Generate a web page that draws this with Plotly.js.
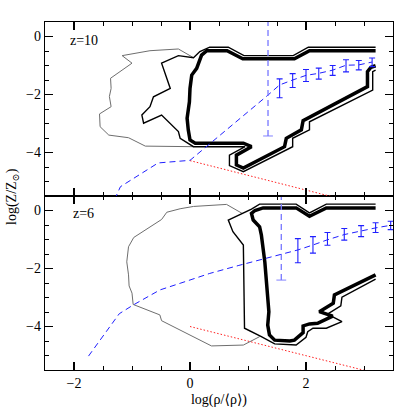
<!DOCTYPE html>
<html>
<head>
<meta charset="utf-8">
<script src="https://cdn.plot.ly/plotly-3.0.1.min.js"></script>
<style>html,body{margin:0;padding:0;background:#fff;}#chart{width:415px;height:415px;}</style>
</head>
<body>
<div id="chart"></div>
<script>
// ---------- z = 10 panel ----------
const grey10_x = [0.06, -0.2, -0.69, -1.17, -1.0, -1.37, -1.36, -1.39, -1.36, -1.56, -1.55, -1.4, -1.06, -0.77, 0.06];
const grey10_y = [-0.73, -0.43, -0.49, -0.66, -0.92, -1.44, -1.79, -2.07, -2.42, -2.67, -3.11, -3.4, -3.49, -3.78, -3.8];

const mid10_x = [3.2, 2.04, 1.78, 0.93, 0.66, 0.34, 0.17, 0.06, -0.2, -0.49, -0.34, -0.63, -0.69, -0.83, -0.80, -0.49, -0.2, -0.17, 0.06, 0.95, 0.68, 0.68, 0.92, 1.77, 1.77, 2.06, 2.06, 3.15, 3.15, 3.2];
const mid10_y = [-0.37, -0.37, -0.66, -0.66, -0.37, -0.37, -0.52, -0.73, -0.66, -0.92, -1.79, -2.08, -2.42, -2.71, -2.99, -2.71, -3.28, -3.51, -3.8, -3.8, -4.09, -4.45, -4.66, -3.8, -3.51, -3.22, -2.94, -1.85, -1.21, -1.16];

const thick10_x = [3.2, 2.06, 1.80, 0.91, 0.64, 0.29, 0.2, 0.14, 0.115, 0.03, 0.0, -0.01, -0.05, -0.03, 0.0, 0.09, 0.92, 1.06, 0.8, 0.8, 0.92, 1.63, 1.66, 1.92, 1.95, 3.06, 3.06, 3.12, 3.2];
const thick10_y = [-0.49, -0.49, -0.77, -0.77, -0.49, -0.49, -0.64, -0.92, -1.1, -1.33, -1.79, -2.25, -2.82, -3.22, -3.57, -3.68, -3.68, -3.8, -4.09, -4.43, -4.54, -3.8, -3.51, -3.22, -2.9, -1.73, -1.21, -1.06, -1.01];

const blue10_x = [-1.3, -1.2, -0.55, 0.0, 1.345, 1.545, 1.77, 2.0, 2.22, 2.46, 2.69, 2.91, 3.14];
const blue10_y = [-5.62, -5.18, -4.36, -4.27, -2.02, -1.67, -1.5, -1.34, -1.27, -1.16, -0.99, -0.98, -0.88];

const err10_x  = [1.545, 1.77, 2.0, 2.22, 2.46, 2.69, 2.91, 3.14];
const err10_y  = [-1.67, -1.5, -1.34, -1.27, -1.16, -0.99, -0.98, -0.88];
const err10_hi = [-1.46, -1.28, -1.14, -1.09, -1.0, -0.8, -0.83, -0.74];
const err10_lo = [-2.11, -1.76, -1.55, -1.47, -1.34, -1.22, -1.15, -1.04];

const big10_x = 1.345, big10_lo = -3.43, big10_hi = 1.0;

const red10_x = [0, 1.2, 2.6];
const red10_y = [-4.28, -4.89, -5.6];

// ---------- z = 6 panel ----------
const grey6_x = [0.9, 0.63, 0.06, -0.17, -0.4, -0.49, -0.97, -1.06, -1.09, -1.06, -1.05, -1.0, -0.98, -0.74, -0.52, -0.49, 0.37, 0.92, 1.2];
const grey6_y = [-0.1, 0.21, 0.14, 0.06, -0.06, -0.31, -0.93, -1.25, -1.77, -2.22, -2.6, -2.85, -3.24, -3.43, -3.6, -3.8, -4.67, -4.64, -4.35];

const mid6_x = [3.2, 2.35, 2.06, 1.83, 1.2, 1.06, 0.66, 0.74, 0.92, 0.93, 0.94, 1.23, 1.46, 1.83, 2.0, 2.03, 2.12, 2.35, 2.62, 2.37, 2.6, 2.62, 3.2];
const mid6_y = [0.22, 0.22, -0.08, 0.22, 0.22, 0.05, -0.33, -0.73, -1.19, -2.34, -4.06, -4.35, -4.6, -4.64, -4.37, -4.18, -4.06, -4.06, -3.83, -3.57, -3.29, -2.99, -2.37];

const thick6_x = [3.2, 2.35, 2.06, 1.83, 1.26, 1.12, 1.06, 1.09, 1.2, 1.23, 1.29, 1.34, 1.36, 1.34, 1.37, 1.46, 1.72, 1.8, 1.95, 1.95, 2.06, 2.2, 2.46, 2.23, 2.47, 2.49, 3.2];
const thick6_y = [0.09, 0.09, -0.2, 0.09, 0.09, 0.0, -0.1, -0.33, -0.56, -0.84, -1.77, -2.91, -3.49, -3.95, -4.29, -4.47, -4.5, -4.47, -4.21, -3.98, -3.91, -3.89, -3.64, -3.49, -3.2, -2.91, -2.22];

const blue6_x = [-1.75, -1.22, -0.98, -0.52, -0.17, 0.34, 0.83, 1.574, 1.86, 2.12, 2.37, 2.66, 2.95, 3.2, 3.46];
const blue6_y = [-5.02, -3.56, -3.26, -2.74, -2.51, -2.17, -1.9, -1.51, -1.36, -1.19, -1.01, -0.83, -0.7, -0.6, -0.51];

const err6_x  = [1.86, 2.12, 2.37, 2.66, 2.95, 3.2, 3.46];
const err6_y  = [-1.36, -1.19, -1.01, -0.83, -0.7, -0.6, -0.51];
const err6_hi = [-0.97, -0.9, -0.76, -0.62, -0.52, -0.42, -0.37];
const err6_lo = [-1.8, -1.47, -1.2, -1.02, -0.9, -0.76, -0.66];

const big6_x = 1.574, big6_lo = -2.4, big6_hi = 1.0;

const red6_x = [0, 1.72, 3.1];
const red6_y = [-4.0, -4.87, -5.56];

const panelLabels = ["z=10", "z=6"];
const xTitle = 'log(ρ/<span style="font-family:DejaVu Sans">⟨</span>ρ<span style="font-family:DejaVu Sans">⟩</span>)';
const yTitle = "log(Z/Z<sub>⊙</sub>)";

// ---------- build ----------
const FONT = "Liberation Serif, DejaVu Serif, serif";
const BLUE = "#2020ff";
const LBLUE = "#7777ff";

function panel(xa, ya, grey, mid, thick, blue, err, big, red) {
  const t = [];
  t.push({x: grey[0], y: grey[1], xaxis: xa, yaxis: ya, mode: "lines", line: {color: "#6e6e6e", width: 1}, hoverinfo: "skip"});
  t.push({x: mid[0], y: mid[1], xaxis: xa, yaxis: ya, mode: "lines", line: {color: "#000", width: 1.4}, hoverinfo: "skip"});
  t.push({x: thick[0], y: thick[1], xaxis: xa, yaxis: ya, mode: "lines", line: {color: "#000", width: 3.5}, hoverinfo: "skip"});
  t.push({x: red[0], y: red[1], xaxis: xa, yaxis: ya, mode: "lines", line: {color: "#ff2020", width: 1, dash: "1.5px,2px"}, hoverinfo: "skip"});
  t.push({x: blue[0], y: blue[1], xaxis: xa, yaxis: ya, mode: "lines", line: {color: BLUE, width: 1, dash: "6px,4px"}, hoverinfo: "skip"});
  t.push({x: err[0], y: err[1], xaxis: xa, yaxis: ya, mode: "markers", marker: {size: 1, color: BLUE, opacity: 0},
    error_y: {type: "data", symmetric: false,
      array: err[2].map((h, i) => h - err[1][i]),
      arrayminus: err[3].map((l, i) => err[1][i] - l),
      color: BLUE, thickness: 1.1, width: 3}, hoverinfo: "skip"});
  t.push({x: [big[0], big[0]], y: [big[1], big[2]], xaxis: xa, yaxis: ya, mode: "lines+markers",
    line: {color: LBLUE, width: 1.3, dash: "6px,4px"},
    marker: {symbol: "line-ew", size: [7, 0], line: {color: LBLUE, width: 1.3}}, hoverinfo: "skip"});
  return t;
}

const data = [].concat(
  panel("x2", "y", [grey10_x, grey10_y], [mid10_x, mid10_y], [thick10_x, thick10_y], [blue10_x, blue10_y],
        [err10_x, err10_y, err10_hi, err10_lo], [big10_x, big10_lo, big10_hi], [red10_x, red10_y]),
  panel("x", "y2", [grey6_x, grey6_y], [mid6_x, mid6_y], [thick6_x, thick6_y], [blue6_x, blue6_y],
        [err6_x, err6_y, err6_hi, err6_lo], [big6_x, big6_lo, big6_hi], [red6_x, red6_y])
);

const axCommon = {
  showgrid: false, zeroline: false, showline: true, linecolor: "#000", linewidth: 1.3,
  mirror: "ticks", ticks: "inside", ticklen: 8, tickwidth: 1.1, tickcolor: "#000",
  dtick: 2, tick0: 0, minor: {dtick: 0.5, tick0: 0, ticks: "inside", ticklen: 4, tickwidth: 1, tickcolor: "#000"},
  tickfont: {family: FONT, size: 14, color: "#000"}
};

const layout = {
  width: 415, height: 415,
  margin: {l: 45, r: 22, t: 22, b: 44.5},
  paper_bgcolor: "#fff", plot_bgcolor: "#fff",
  showlegend: false,
  xaxis: Object.assign({}, axCommon, {domain: [0, 1], range: [-2.5, 3.5], anchor: "y2",
    title: {text: xTitle, font: {family: FONT, size: 14, color: "#000"}, standoff: 4}}),
  xaxis2: Object.assign({}, axCommon, {domain: [0, 1], range: [-2.5, 3.5], anchor: "y", matches: "x", showticklabels: false}),
  yaxis: Object.assign({}, axCommon, {domain: [0.5, 1], range: [-5.5, 0.5], anchor: "x2"}),
  yaxis2: Object.assign({}, axCommon, {domain: [0, 0.5], range: [-5.5, 0.5], anchor: "x"}),
  annotations: [
    {text: panelLabels[0], xref: "x2", yref: "y", x: -2.1, y: -0.15, xanchor: "left", yanchor: "middle", showarrow: false,
     font: {family: FONT, size: 14, color: "#000"}},
    {text: panelLabels[1], xref: "x", yref: "y2", x: -2.05, y: -0.12, xanchor: "left", yanchor: "middle", showarrow: false,
     font: {family: FONT, size: 14, color: "#000"}},
    {text: yTitle, xref: "paper", yref: "paper", x: -0.095, y: 0.5, xanchor: "center", yanchor: "middle", textangle: -90,
     showarrow: false, font: {family: FONT, size: 14, color: "#000"}}
  ]
};

Plotly.newPlot("chart", data, layout, {staticPlot: true, displayModeBar: false});
</script>
</body>
</html>
